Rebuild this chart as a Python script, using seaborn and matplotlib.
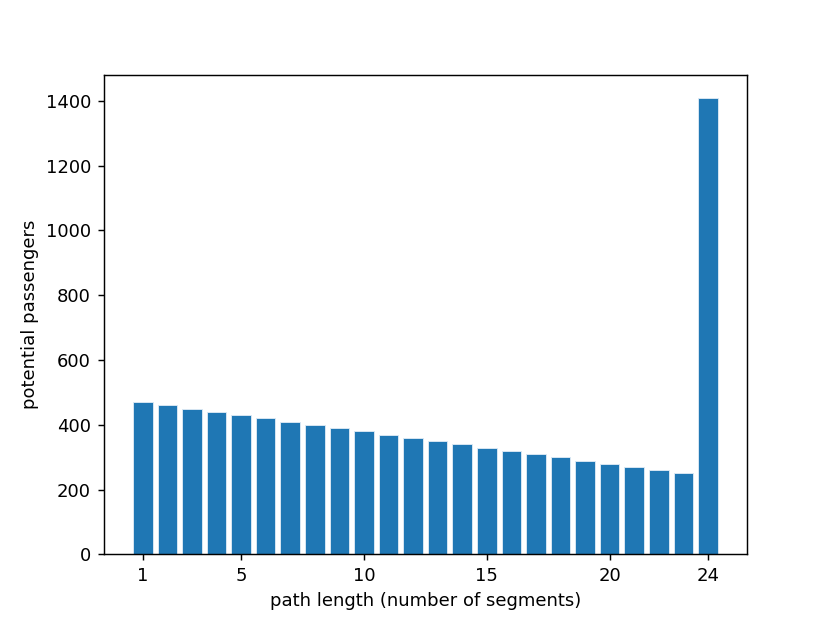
import pandas as pd
import matplotlib.pyplot as plt
import seaborn as sns

path_length = list(range(1, 25))
passengers = [470, 460, 450, 440, 430, 420, 410, 400, 390, 380, 370, 360,
              350, 340, 330, 320, 310, 300, 290, 280, 270, 260, 250, 1410]
xtick_values = [1, 5, 10, 15, 20, 24]

df = pd.DataFrame({'path_length': path_length, 'passengers': passengers})

fig, ax = plt.subplots(figsize=(830 / 130, 623 / 130), dpi=130)
sns.barplot(
    data=df,
    x='path_length',
    y='passengers',
    native_scale=True,
    color='#1f77b4',
    saturation=1,
    edgecolor='#dce9f4',
    linewidth=0.5,
    width=0.8,
    ax=ax,
)
ax.set_xticks(xtick_values)
ax.set_xlim(-0.59, 25.59)
ax.set_xlabel('path length (number of segments)')
ax.set_ylabel('potential passengers')
plt.savefig('out.png', dpi=130)
